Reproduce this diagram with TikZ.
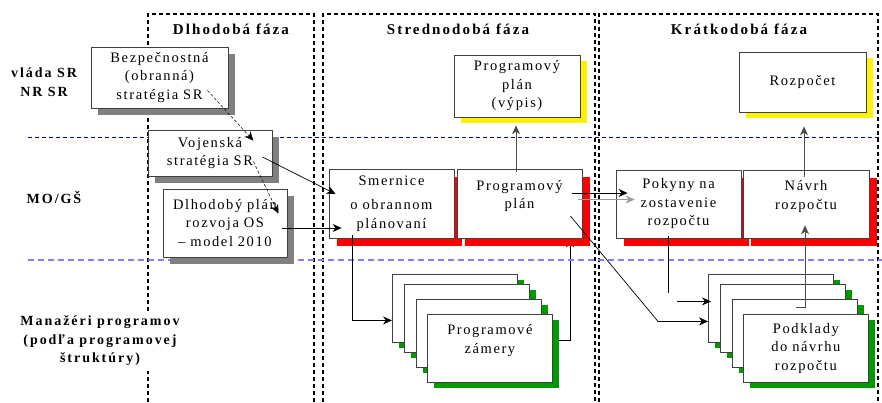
\documentclass[tikz,border=0pt]{standalone}
\usepackage{fontspec}
\setmainfont{Liberation Serif}
\newfontfamily\boxfont[LetterSpace=11]{Liberation Serif}
\newfontfamily\headfont[LetterSpace=14]{Liberation Serif}
\usetikzlibrary{calc}
\usetikzlibrary{positioning}
\usetikzlibrary{shadows}
\usetikzlibrary{arrows.meta}
\usetikzlibrary{backgrounds}
\newcommand\stackbox[3]{
    \foreach \dx/\dy [count=\k] in {0/0,12/10,24/25}
    {
        \node[box, greenshadow, anchor=north west] (#1\k) at ($(#2) + (\dx,\dy)$) {};
    }
    \node[box, greenshadow, anchor=north west] (#14) at ($(#2) + (35,40)$) {#3};
}

\begin{document}
\begin{tikzpicture}[x=1pt, y=-1pt,
        box/.style={draw=black!75, line width=0.8pt, fill=white, align=center,
            text width=125pt, minimum height=68pt, inner sep=0pt,
            font={\boxfont\fontsize{14.5pt}{18.5pt}\selectfont}},
        grayshadow/.style={general shadow={fill=black!50, shadow xshift=7pt, shadow yshift=-7pt}},
        yellowshadow/.style={general shadow={fill=yellow, shadow xshift=7pt, shadow yshift=-6pt}},
        redshadow/.style={general shadow={fill=red, shadow xshift=8pt, shadow yshift=-8pt}},
        greenshadow/.style={general shadow={fill=green!60!black, shadow xshift=7pt, shadow yshift=-6pt}},
        phase/.style={draw=black, line width=1.6pt, dash pattern=on 4pt off 3pt},
        sepa/.style={draw=blue!70!black, line width=0.8pt, dash pattern=on 4pt off 3pt},
        sepb/.style={draw=blue!50, line width=1.3pt, dash pattern=on 6pt off 4pt},
        head/.style={font={\headfont\bfseries\fontsize{15pt}{18pt}\selectfont}},
        row/.style={font={\headfont\bfseries\fontsize{14pt}{18.5pt}\selectfont}, align=center,
            fill=white, inner sep=5pt},
        conn/.style={-{Stealth[length=9pt,width=8pt]}, line width=0.7pt},
        dashconn/.style={conn, line width=0.5pt, densely dashed}
    ]
    \useasboundingbox (0,0) rectangle (882,402);

    % phase frames and row lines
    \foreach \l/\r in {148/314, 323/595, 599/878}
    {
        \draw[phase] (\l,402) -- (\l,14) -- (\r,14) -- (\r,402);
    }
    \draw[sepa] (28,137) -- (882,137);
    \draw[sepb] (28,260) -- (882,260);

    \node[head] (dlhf) at (231,29) {Dlhodobá fáza};
    \node[head] (strf) at (458,29) {Strednodobá fáza};
    \node[head] (kraf) at (739,29) {Krátkodobá fáza};

    \node[row] (vlada) at (44,82) {vláda SR\\NR SR};
    \node[row] (mogs) at (54,197) {MO/GŠ};
    \node[row] (manaz) at (100,341) {Manažéri programov\\(podľa programovej\\štruktúry)};

    % boxes
    \node[box, grayshadow, text width=137pt, minimum height=61pt] (bezp) at (159.5,77.5) {Bezpečnostná\\(obranná)\\stratégia SR};
    \node[box, grayshadow, text width=124pt, minimum height=46pt] (vojs) at (210,153) {Vojenská\\stratégia SR};
    \node[box, grayshadow, text width=124pt] (dlhp) at (225,223) {Dlhodobý plán\\rozvoja OS\\– model 2010};
    \node[box, yellowshadow, text width=126pt, minimum height=62pt] (vypis) at (517,86) {Programový\\plán\\(výpis)};
    \node[box, yellowshadow, text width=127pt, minimum height=60pt] (rozp) at (802.5,82) {Rozpočet};
    \node[box, redshadow, minimum height=69pt] (smer) at (391.5,203.5) {Smernice\\[6pt]o obrannom\\plánovaní};
    \node[box, redshadow, minimum height=69pt] (pplan) at (519.5,203.5) {Programový\\plán\\~};
    \node[box, redshadow] (pokyn) at (678.5,204) {Pokyny na\\zostavenie\\rozpočtu};
    \node[box, redshadow, text width=126pt] (navrh) at (806,204) {Návrh\\rozpočtu\\~};
    \stackbox{zam}{392,274}{Programové\\zámery\\~}
    \stackbox{pod}{708,274}{Podklady\\do návrhu\\rozpočtu}

    % connectors
    \draw[dashconn] ($(bezp.south east)+(-21,-18)$) -- ($(vojs.north east)+(-19,11)$);
    \draw[dashconn] ($(vojs.north east)+(-19,32)$) -- ($(dlhp.north east)+(-9,25)$);
    \draw[conn] ($(vojs.east)+(-10,4)$) -- ($(smer.west)+(7,-9.5)$);
    \draw[conn] ($(dlhp.east)+(-5,5)$) -- ($(smer.west)+(13,24.5)$);
    \draw[conn, black!70] ($(pplan.north)+(-3.5,3)$) -- ($(vypis.south)+(-1,8)$);
    \draw[conn] ($(pplan.east)+(-10,-10.5)$) -- ($(pokyn.west)+(12,-11)$);
    \draw[conn, black!40] ($(pplan.east)+(-4,-4)$) -- ($(pokyn.west)+(19,-4.5)$);
    \draw[conn] ($(pplan.east)+(-12,12.5)$) -- ($(pod1.west)+(-50,13)$) -- ($(pod1.west)+(0,13)$);
    \draw[conn] ($(smer.south)+(-39.5,-3)$) |- ($(zam1.west)+(0,12)$);
    \begin{pgfonlayer}{background}
        \draw[conn] ($(zam1.east)+(0,32)$) -| ($(pplan.south)+(50.5,0)$);
    \end{pgfonlayer}
    \draw[line width=0.7pt] ($(pokyn.south)+(-10.5,-2)$) -- ($(pokyn.south)+(-10.5,55)$);
    \draw[conn] ($(pod1.west)+(-31,-7)$) -- ($(pod1.west)+(3,-7)$);
    \draw[conn, black!70] ($(pod3.north west)+(64,8)$) -- ($(pod3.north west)+(73,8)$) -- ($(navrh.south)+(-1,-13)$);
    \draw[conn, black!70] ($(navrh.north)+(-2,7)$) -- ($(rozp.south)+(1.5,14)$);
\end{tikzpicture}
\end{document}
